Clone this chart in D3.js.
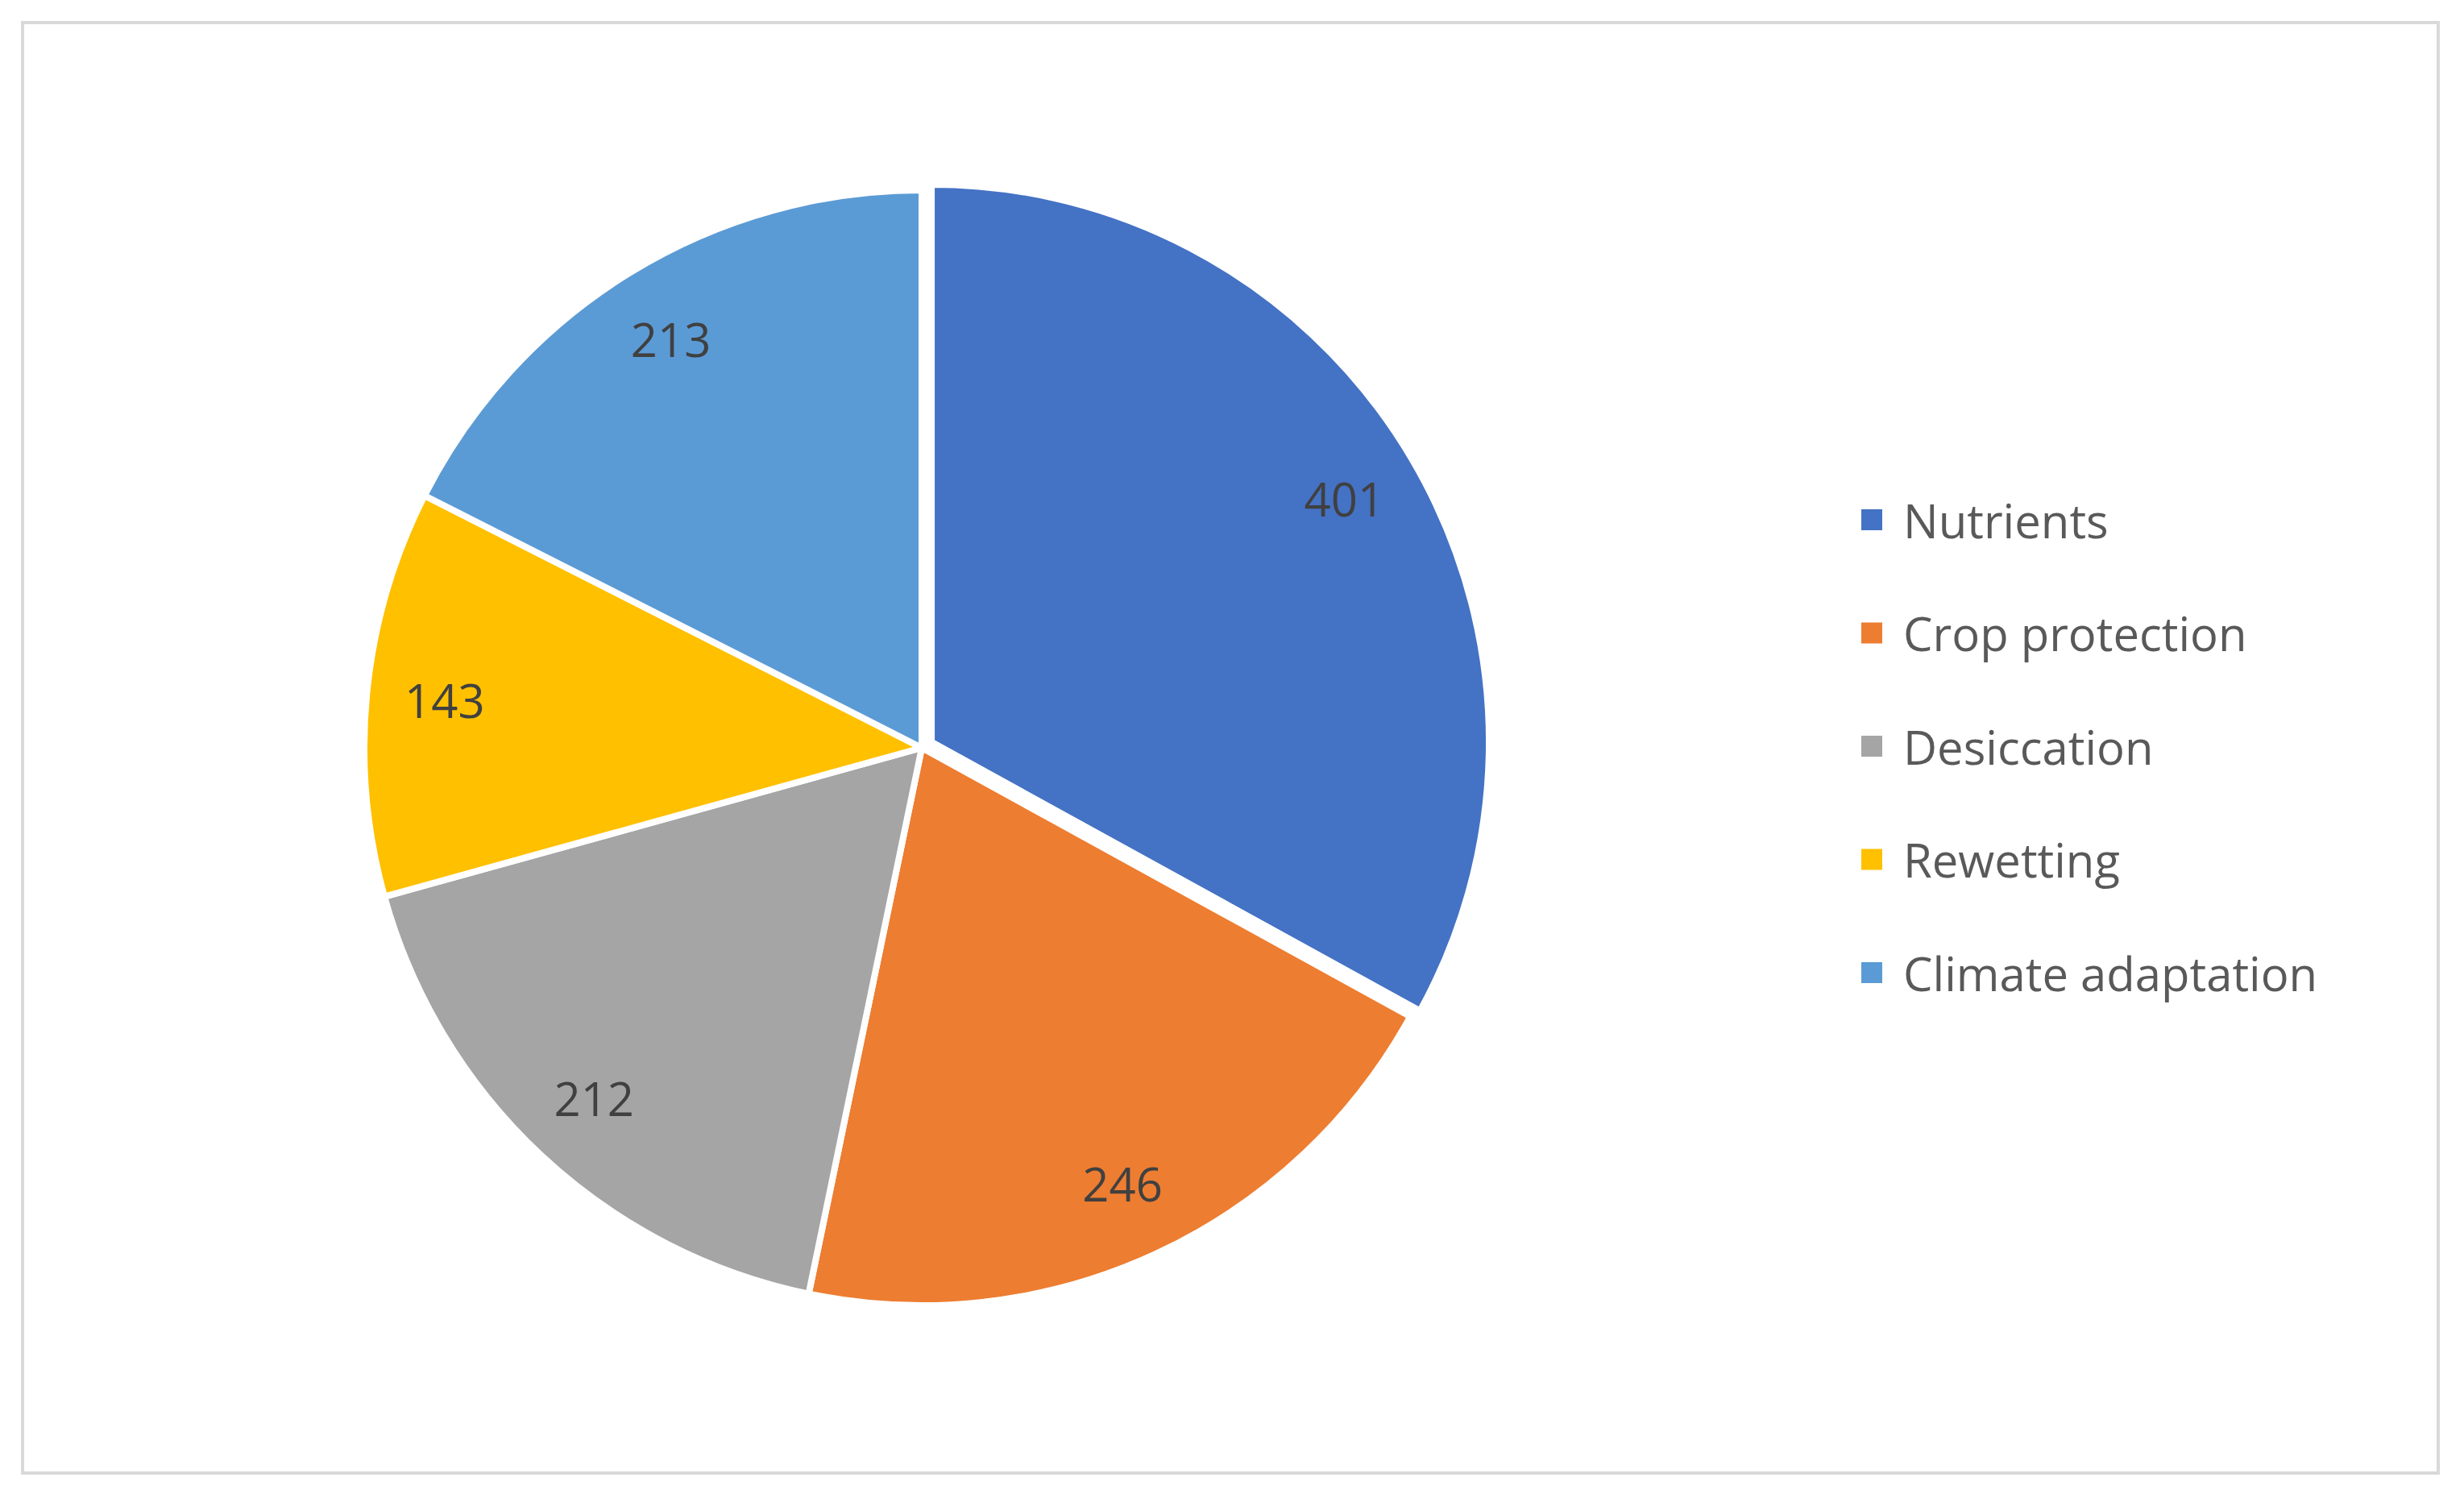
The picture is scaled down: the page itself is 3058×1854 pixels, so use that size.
<!DOCTYPE html>
<html><head><meta charset="utf-8">
<script src="https://cdn.jsdelivr.net/npm/d3@7"></script>
<style>body{margin:0;background:#fff}</style></head>
<body><svg id="c" width="3058" height="1854"></svg>
<script>
const categories = ["Nutrients","Crop protection","Desiccation","Rewetting","Climate adaptation"];
const values = [401,246,212,143,213];
const colors = ["#4472C4","#ED7D31","#A5A5A5","#FFC000","#5B9BD5"];
const svg = d3.select("#c");
svg.append("rect").attr("x",28).attr("y",28).attr("width",2998).attr("height",1800)
  .attr("fill","#fff").attr("stroke","#D9D9D9").attr("stroke-width",4);
const cx=1144, cy=928, R=692;
const pie = d3.pie().sort(null).value(d=>d)(values);
const arc = d3.arc().innerRadius(0).outerRadius(R);
const g = svg.append("g").attr("transform",`translate(${cx},${cy})`);
pie.forEach((p,i)=>{
  const mid=(p.startAngle+p.endAngle)/2;
  const off = i===0?14:0;
  const gx=Math.sin(mid)*off, gy=-Math.cos(mid)*off;
  const s=g.append("g").attr("transform",`translate(${gx},${gy})`);
  s.append("path").attr("d",arc(p)).attr("fill",colors[i]).attr("stroke","#fff").attr("stroke-width",8);
  const lr=R*0.86;
  s.append("text").attr("x",Math.sin(mid)*lr).attr("y",-Math.cos(mid)*lr)
   .attr("text-anchor","middle").attr("dominant-baseline","central")
   .attr("font-family","Open Sans, sans-serif").attr("font-size",58).attr("fill","#404040")
   .text(values[i]);
});
const lg=svg.append("g");
categories.forEach((c,i)=>{
  const y=645+i*140.5;
  lg.append("rect").attr("x",2310).attr("y",y-13).attr("width",26).attr("height",26).attr("fill",colors[i]);
  lg.append("text").attr("x",2362).attr("y",y).attr("dominant-baseline","central")
    .attr("font-family","Open Sans, sans-serif").attr("font-size",58).attr("fill","#595959").text(c);
});
</script></body></html>
